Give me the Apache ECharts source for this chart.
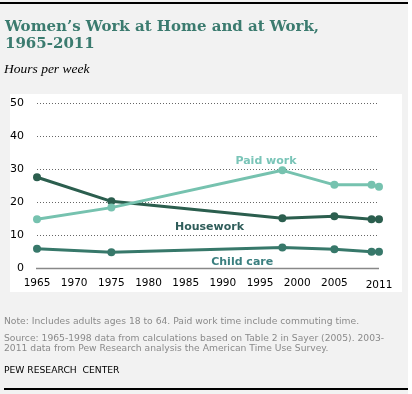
<!DOCTYPE html>
<html><head><meta charset="utf-8">
<script src="https://cdn.jsdelivr.net/npm/echarts@6/dist/echarts.min.js"></script>
<style>html,body{margin:0;padding:0;background:#fff}#c{width:412px;height:394px}</style>
</head><body><div id="c"></div>
<script>
const years = [1965, 1975, 1998, 2005, 2010, 2011];
const paidWork = [14.8, 18.3, 29.6, 25.2, 25.2, 24.6];
const housework = [27.5, 20.2, 15.1, 15.7, 14.8, 14.8];
const childCare = [5.8, 4.8, 6.2, 5.7, 4.9, 4.9];
const xTickLabels = [1965, 1970, 1975, 1980, 1985, 1990, 1995, 2000, 2005, 2011];
const yTicks = [0, 10, 20, 30, 40, 50];
const seriesNames = ['Paid work', 'Housework', 'Child care'];
const labelAnchors = [[1995.8, 32.4], [1988.2, 12.4], [1992.6, 1.8]];

const chart = echarts.init(document.getElementById('c'), null, {renderer: 'canvas'});
function pts(vals){ return years.map((y,i)=>[y, vals[i]]); }
function mk(name, vals, color, labColor, anchor){
  return {
    name, type:'line', data: pts(vals), symbol:'circle', symbolSize:8,
    lineStyle:{color, width:3}, itemStyle:{color}, animation:false,
    markPoint:{symbol:'circle', symbolSize:0, animation:false,
      data:[{coord:anchor, label:{show:true, position:'inside', formatter:name, color:labColor,
        fontFamily:'DejaVu Sans', fontWeight:'bold', fontSize:11}}]}
  };
}
chart.setOption({
  backgroundColor:'#f2f2f2',
  animation:false,
  grid:{left:37, right:33, top:103, bottom:126},
  xAxis:{type:'value', min:1965, max:2011,
    axisLine:{show:false}, axisTick:{show:false}, splitLine:{show:false},
    axisLabel:{customValues:xTickLabels, margin:10, fontFamily:'DejaVu Sans', fontSize:10.5, color:'#000',
      formatter:v=> v===2011 ? '{low|2011}' : String(v),
      rich:{low:{fontFamily:'DejaVu Sans', fontSize:10.5, color:'#000', padding:[2,0,0,0]}}}},
  yAxis:{type:'value', min:0, max:50, interval:10,
    axisLine:{show:false}, axisTick:{show:false},
    splitLine:{show:true, lineStyle:{color:'#666', type:[1,2], width:1}},
    axisLabel:{margin:13, fontFamily:'DejaVu Sans', fontSize:11, color:'#000'}},
  graphic:[
    {type:'rect', shape:{x:10,y:94,width:392,height:198}, style:{fill:'#fff'}, z:-10, silent:true},
    {type:'rect', shape:{x:408,y:0,width:4,height:394}, style:{fill:'#fff'}, z:-10, silent:true},
    {type:'line', shape:{x1:0,y1:3,x2:408,y2:3}, style:{stroke:'#000', lineWidth:2}},
    {type:'line', shape:{x1:4,y1:389,x2:408,y2:389}, style:{stroke:'#000', lineWidth:2}},
    {type:'line', shape:{x1:36,y1:268.5,x2:379,y2:268.5}, style:{stroke:'#888', lineWidth:1.5}, z:5},
    {type:'text', x:5, y:19, style:{text:'Women\u2019s Work at Home and at Work,\n1965-2011', fill:'#3b7b6f',
      font:'bold 15px "DejaVu Serif"', lineHeight:17}},
    {type:'text', x:4, y:62, style:{text:'Hours per week', fill:'#000', font:'italic 13.5px "Liberation Serif"'}},
    {type:'text', x:4, y:317, style:{text:'Note: Includes adults ages 18 to 64. Paid work time include commuting time.', fill:'#8a8a8a', font:'9.2px "DejaVu Sans"'}},
    {type:'text', x:4, y:334, style:{text:'Source: 1965-1998 data from calculations based on Table 2 in Sayer (2005). 2003-\n2011 data from Pew Research analysis the American Time Use Survey.', fill:'#8a8a8a', font:'9.2px "DejaVu Sans"', lineHeight:10}},
    {type:'text', x:4, y:366, style:{text:'PEW RESEARCH  CENTER', fill:'#000', font:'9.2px "DejaVu Sans"'}}
  ],
  series:[
    mk(seriesNames[2], childCare, '#37786a', '#3b7f7f', labelAnchors[2]),
    mk(seriesNames[1], housework, '#2b5e4e', '#2f5d5a', labelAnchors[1]),
    mk(seriesNames[0], paidWork, '#76c2af', '#7ac5b8', labelAnchors[0])
  ]
});
</script></body></html>
